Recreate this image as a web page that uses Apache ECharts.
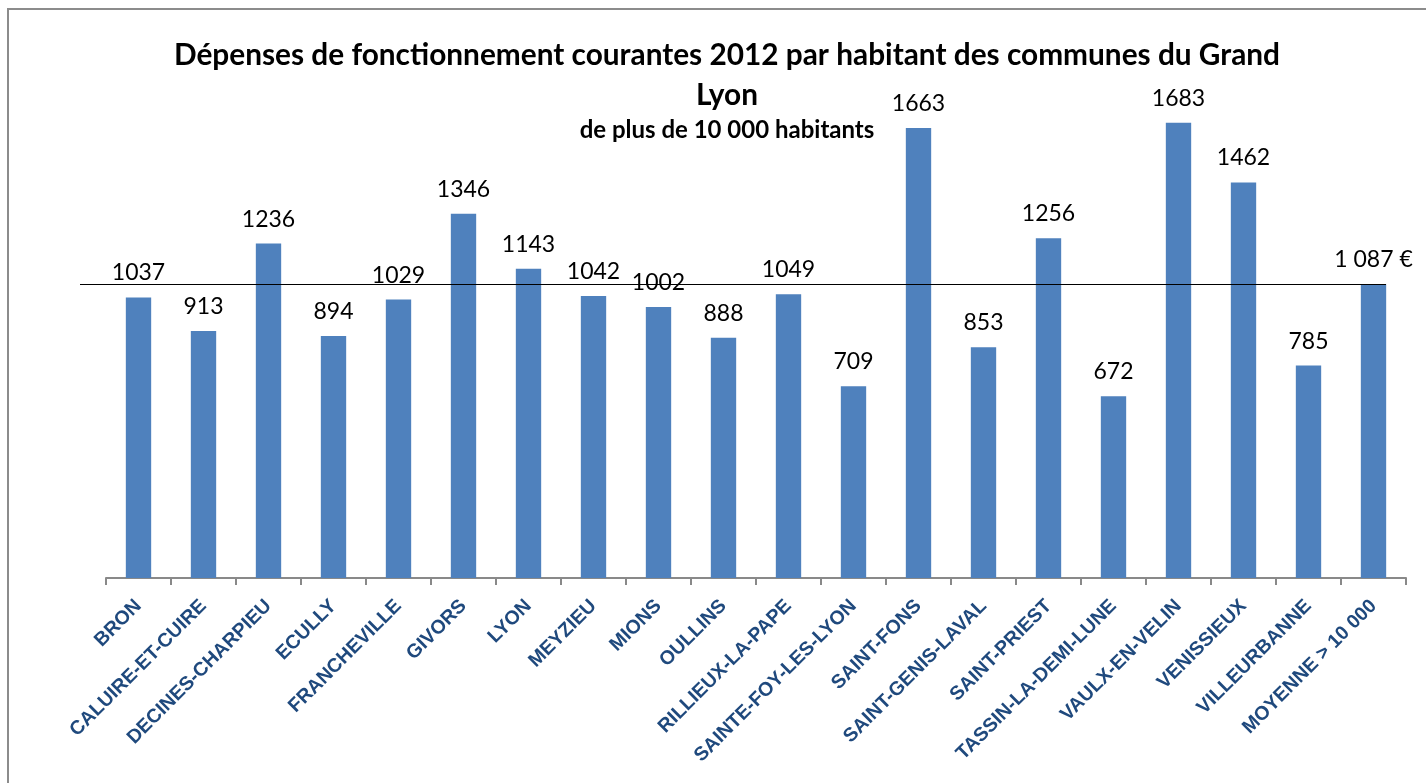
<!DOCTYPE html>
<html><head><meta charset="utf-8">
<script src="https://cdn.jsdelivr.net/npm/echarts@6/dist/echarts.min.js"></script>
<style>
html,body{margin:0;padding:0;background:#fff;overflow:hidden;}
#frame{position:absolute;left:7px;top:8px;width:1440px;height:800px;border-left:2px solid #8c8c8c;border-top:2px solid #8c8c8c;}
#chart{position:absolute;left:0;top:0;width:1426px;height:783px;}
</style></head>
<body>
<div id="frame"></div>
<div id="chart"></div>
<script>
var categories = ['BRON','CALUIRE-ET-CUIRE','DECINES-CHARPIEU','ECULLY','FRANCHEVILLE','GIVORS','LYON','MEYZIEU','MIONS','OULLINS','RILLIEUX-LA-PAPE','SAINTE-FOY-LES-LYON','SAINT-FONS','SAINT-GENIS-LAVAL','SAINT-PRIEST','TASSIN-LA-DEMI-LUNE','VAULX-EN-VELIN','VENISSIEUX','VILLEURBANNE','MOYENNE > 10 000'];
var values = [1037,913,1236,894,1029,1346,1143,1042,1002,888,1049,709,1663,853,1256,672,1683,1462,785,1087];
var averageValue = 1087;
var titleText = 'Dépenses de fonctionnement courantes 2012 par habitant des communes du Grand\nLyon';
var subtitleText = 'de plus de 10 000 habitants';

var chart = echarts.init(document.getElementById('chart'), null, {renderer:'canvas'});
chart.setOption({
  animation:false,
  backgroundColor:'transparent',
  title:[
    {text:titleText, left:722, top:30, textAlign:'center',
     textStyle:{fontFamily:'Lato', fontWeight:'bold', fontSize:29.8, lineHeight:40, color:'#000'}},
    {text:subtitleText, left:722, top:111, textAlign:'center',
     textStyle:{fontFamily:'Lato', fontWeight:'bold', fontSize:24, lineHeight:28, color:'#000'}}
  ],
  grid:{left:106, right:20, top:91, bottom:205, containLabel:false},
  xAxis:{type:'category', data:categories,
    axisLine:{lineStyle:{color:'#898989', width:2}},
    axisTick:{show:true, length:7, lineStyle:{color:'#898989', width:2}},
    axisLabel:{rotate:45, interval:0, margin:25, fontFamily:'Liberation Sans', fontWeight:'bold', fontSize:19.5, color:'#1F497D'}
  },
  yAxis:{type:'value', min:0, max:1800, show:false, splitLine:{show:false}},
  series:[{
    type:'bar', data:values, barCategoryGap:'61%',
    itemStyle:{color:'#4F81BD'},
    label:{show:true, position:'top', distance:13, fontFamily:'Lato', fontSize:23, color:'#000',
      formatter:function(p){
        if(p.dataIndex === values.length-1){
          return String(p.value).replace(/\B(?=(\d{3})+(?!\d))/g,' ') + ' €';
        }
        return String(p.value);
      }},
    markLine:{symbol:['none','none'], silent:true, label:{show:false},
      lineStyle:{color:'#000', width:1.2, type:'solid'},
      data:[[{x:80, yAxis:averageValue, xAxis:0},{x:1386, yAxis:averageValue, xAxis:categories.length-1}]]}
  }]
});
</script>
</body></html>
